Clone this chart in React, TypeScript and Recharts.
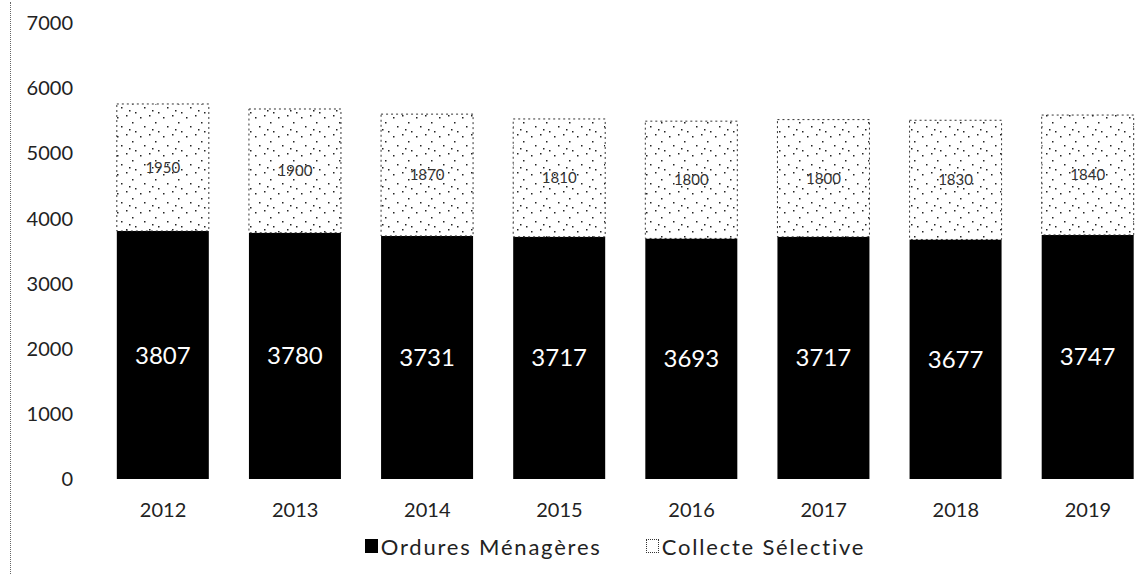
import { BarChart, Bar, XAxis, YAxis, Legend, LabelList } from "recharts";

const years = ["2012", "2013", "2014", "2015", "2016", "2017", "2018", "2019"];
const ordures = [3807, 3780, 3731, 3717, 3693, 3717, 3677, 3747];
const collecte = [1950, 1900, 1870, 1810, 1800, 1800, 1830, 1840];
const yTicks = [0, 1000, 2000, 3000, 4000, 5000, 6000, 7000];

const data = years.map((year, i) => ({
  year,
  ordures: ordures[i],
  collecte: collecte[i],
}));

const font = "Lato, 'Open Sans', sans-serif";

function ChartLegend() {
  return (
    <div
      style={{
        display: "flex",
        justifyContent: "center",
        alignItems: "center",
        height: 54,
        paddingLeft: 76,
        fontFamily: font,
        fontSize: 22,
        letterSpacing: 1.8,
        color: "#222",
        gap: 44,
      }}
    >
      <span style={{ display: "flex", alignItems: "center", gap: 3 }}>
        <span style={{ width: 13, height: 14, background: "#000", display: "inline-block" }} />
        Ordures Ménagères
      </span>
      <span style={{ display: "flex", alignItems: "center", gap: 3 }}>
        <span
          style={{
            width: 11,
            height: 12,
            border: "1px dotted #333",
            background: "#fff",
            display: "inline-block",
          }}
        />
        Collecte Sélective
      </span>
    </div>
  );
}

export default function App() {
  return (
    <div
      style={{
        position: "absolute",
        left: 0,
        top: 0,
        width: 1145,
        height: 577,
        overflow: "hidden",
        background: "#fff",
      }}
    >
      <div
        style={{
          position: "absolute",
          left: 10,
          top: 2,
          height: 572,
          borderLeft: "1px dotted #666",
        }}
      />
      <BarChart
        width={1160}
        height={577}
        data={data}
        margin={{ top: 23, right: 6, bottom: 4, left: 0 }}
        barCategoryGap="15%"
      >
        <defs>
          <pattern id="dots" width="23" height="19" patternUnits="userSpaceOnUse">
            <rect width="23" height="19" fill="#fff" />
            <rect x="2" y="3" width="1.5" height="1.5" fill="#222" />
            <rect x="11" y="1" width="1.5" height="1.5" fill="#222" />
            <rect x="17" y="8" width="1.5" height="1.5" fill="#222" />
            <rect x="6" y="12" width="1.5" height="1.5" fill="#222" />
            <rect x="14" y="15" width="1.5" height="1.5" fill="#222" />
            <rect x="20" y="17" width="1.5" height="1.5" fill="#222" />
          </pattern>
        </defs>
        <XAxis
          dataKey="year"
          axisLine={false}
          tickLine={false}
          height={40}
          tickMargin={18}
          tick={{ fontSize: 20, fill: "#222", fontFamily: font }}
        />
        <YAxis
          domain={[0, 7000]}
          ticks={yTicks}
          axisLine={false}
          tickLine={false}
          width={97}
          tickMargin={18}
          tick={{ fontSize: 20, fill: "#222", fontFamily: font }}
        />
        <Legend verticalAlign="bottom" height={54} content={() => <ChartLegend />} />
        <Bar dataKey="ordures" stackId="a" fill="#000" isAnimationActive={false}>
          <LabelList
            dataKey="ordures"
            position="center"
            fill="#fff"
            style={{ fontSize: 24, fontFamily: font }}
          />
        </Bar>
        <Bar
          dataKey="collecte"
          stackId="a"
          fill="url(#dots)"
          stroke="#333"
          strokeWidth={1}
          strokeDasharray="2 3"
          isAnimationActive={false}
        >
          <LabelList
            dataKey="collecte"
            position="center"
            fill="#333"
            style={{ fontSize: 15, fontFamily: font }}
          />
        </Bar>
      </BarChart>
    </div>
  );
}
